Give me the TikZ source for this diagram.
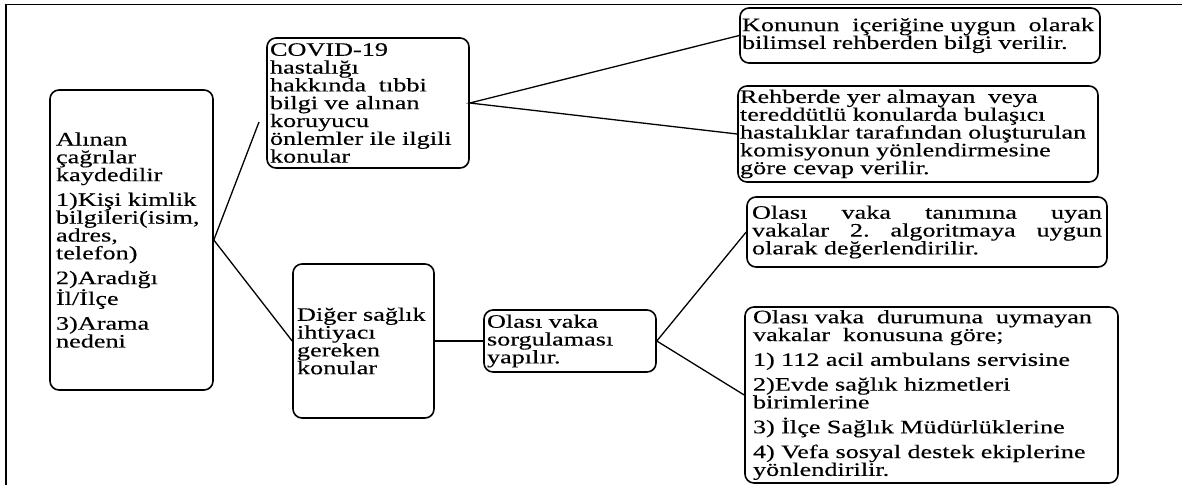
\documentclass[tikz,border=0pt]{standalone}
\usepackage{fontspec}
\setmainfont{Liberation Serif}[FakeStretch=1.38,FakeBold=0.3]
\begin{document}
\begin{tikzpicture}[x=1pt,y=-1pt,
  box/.style={draw, line width=1.6pt, rounded corners=9pt, align=left,
    font=\fontsize{19}{17.8}\selectfont, inner ysep=1pt, anchor=center},
  conn/.style={line width=1.3pt},
  frame/.style={line width=1.4pt}]
\useasboundingbox (0,0) rectangle (1182,485);
\coordinate (fr1) at (1182,4.5);
\coordinate (fr2) at (6,4.5);
\coordinate (fr3) at (6,485);
\draw[frame] (fr1) -- (fr2) -- (fr3);

\node[box, minimum width=163pt, minimum height=300pt, inner xsep=6pt, text width=151pt] (A) at (131.5,240)
 {Alınan\\ çağrılar\\ kaydedilir\\[7pt] 1)Kişi kimlik\\ bilgileri(isim,\\ adres,\\ telefon)\\[7pt] 2)Aradığı\\ İl/İlçe\\[7pt] 3)Arama\\ nedeni};

\node[box, minimum width=202pt, minimum height=130pt, inner xsep=3pt, text width=196pt] (B) at (368,103)
 {COVID-19\\ hastalığı\\ hakkında~ tıbbi\\ bilgi ve alınan\\ koruyucu\\ önlemler ile ilgili\\ konular};

\node[box, minimum width=141pt, minimum height=154pt, inner xsep=4pt, text width=133pt] (C) at (363.5,341)
 {Diğer sağlık\\ ihtiyacı\\ gereken\\ konular};

\node[box, minimum width=172pt, minimum height=62pt, inner xsep=3pt, text width=166pt] (D) at (570,341)
 {Olası vaka\\ sorgulaması\\ yapılır.};

\node[box, minimum width=360pt, minimum height=55pt, inner xsep=2pt, text width=356pt] (E) at (920,35.5)
 {Konunun~ içeriğine uygun~ olarak\\ bilimsel rehberden bilgi verilir.};

\node[box, minimum width=360pt, minimum height=96pt, inner xsep=2pt, text width=356pt] (F) at (918,134)
 {Rehberde yer almayan~ veya\\ tereddütlü konularda bulaşıcı\\ hastalıklar tarafından oluşturulan\\ komisyonun yönlendirmesine\\ göre cevap verilir.};

\node[box, minimum width=360pt, minimum height=70pt, inner xsep=5pt, text width=350pt] (G) at (927,232)
 {Olası\hfill vaka\hfill tanımına\hfill uyan\\ vakalar\hfill 2.\hfill algoritmaya\hfill uygun\\ olarak değerlendirilir.};

\node[box, minimum width=373pt, minimum height=176pt, inner xsep=8pt, text width=357pt] (H) at (931.5,395)
 {Olası vaka~ durumuna~ uymayan\\ vakalar~ konusuna göre;\\[7pt] 1) 112 acil ambulans servisine\\[7pt] 2)Evde sağlık hizmetleri\\ birimlerine\\[7pt] 3) İlçe Sağlık Müdürlüklerine\\[7pt] 4) Vefa sosyal destek ekiplerine\\ yönlendirilir.};

\coordinate (Bin) at (259,122);
\draw[conn] (Bin) -- (A.east) -- (C.west);
\draw[conn] (E.west) -- (B.east) -- (F.west);
\draw[conn] (C.east) -- (D.west);
\draw[conn] (G.west) -- (D.east) -- (H.west);
\end{tikzpicture}
\end{document}
